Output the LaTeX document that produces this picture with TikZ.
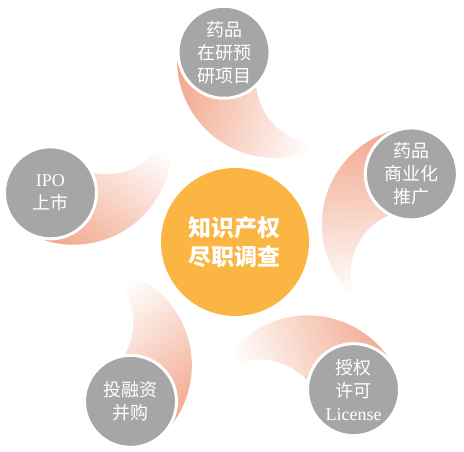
\documentclass[tikz,border=0pt]{standalone}
\usepackage{fontspec}
\setmainfont{Liberation Serif}
\newfontfamily\cjk{Noto Sans CJK SC}
\usepackage{tikz}
\usepackage{xcolor}
\definecolor{ip_orange}{RGB}{250,181,66}
\definecolor{ip_gray}{RGB}{166,166,166}
\definecolor{ip_peach}{RGB}{242,168,142}
\tikzset{
  item/.style={circle, fill=ip_gray, draw=white, line width=3pt, minimum size=92pt, inner sep=0pt,
    align=center, text=white, font=\cjk\fontsize{18}{23}\selectfont},
  hub/.style={circle, fill=ip_orange, minimum size=148pt, inner sep=0pt,
    align=center, text=white, font=\cjk\bfseries\fontsize{23}{29}\selectfont},
  swoosh/.style={left color=ip_peach, right color=white, shading angle=#1},
}

\begin{document}
\begin{tikzpicture}[x=1pt,y=1pt]
  \useasboundingbox (-234,-210) rectangle (230,242);
  %三日月
  \shade[swoosh=74] ([shift={(77.3:186.6)}]170:98) arc[start angle=170,end angle=301.3,radius=98]
    arc[start angle=275.4,end angle=183.6,radius=64] -- cycle;
  \shade[swoosh=2] ([shift={(5.3:186.6)}]98:98) arc[start angle=98,end angle=229.3,radius=98]
    arc[start angle=203.4,end angle=111.6,radius=64] -- cycle;
  \shade[swoosh=-70] ([shift={(-66.7:186.6)}]26:98) arc[start angle=26,end angle=157.3,radius=98]
    arc[start angle=131.4,end angle=39.6,radius=64] -- cycle;
  \shade[swoosh=-142] ([shift={(-138.7:186.6)}]-46:98) arc[start angle=-46,end angle=85.3,radius=98]
    arc[start angle=59.4,end angle=-32.4,radius=64] -- cycle;
  \shade[swoosh=146] ([shift={(149.3:186.6)}]-118:98) arc[start angle=-118,end angle=13.3,radius=98]
    arc[start angle=-12.6,end angle=-104.4,radius=64] -- cycle;
  %周りの円
  \node[item] (dev) at (93:190) {药品\\在研预\\研项目};
  \node[item] (mkt) at (21:190) {药品\\商业化\\推广};
  \node[item] (lic) at (-51:190) {授权\\许可\\{\rmfamily License}};
  \node[item] (mna) at (-123:190) {投融资\\并购};
  \node[item] (ipo) at (165:190) {{\rmfamily IPO}\\上市};
  %中心
  \node[hub] (dd) at (1,0) {知识产权\\尽职调查};
\end{tikzpicture}
\end{document}
